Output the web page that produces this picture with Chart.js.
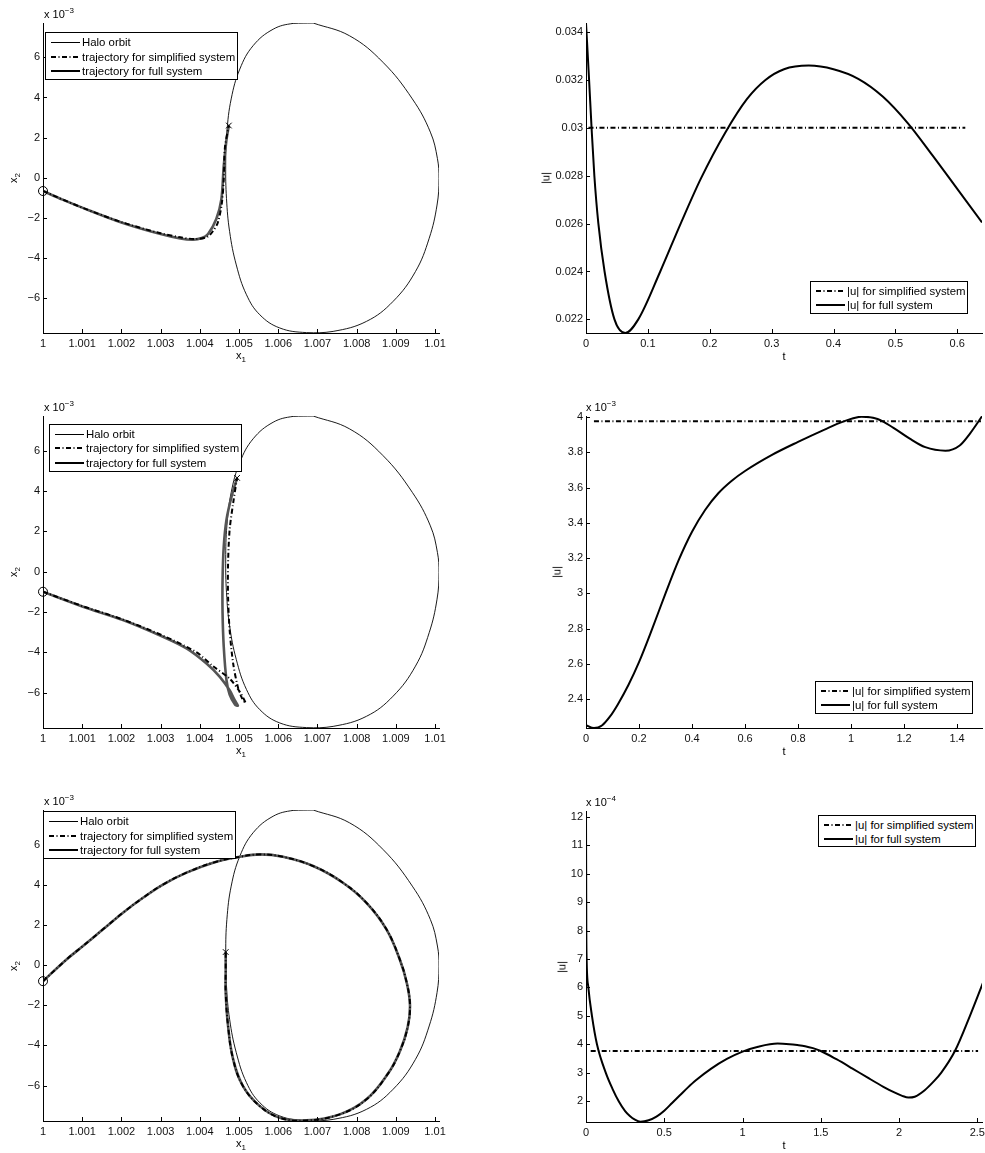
<!DOCTYPE html>
<html>
<head>
<meta charset="utf-8">
<script src="https://cdn.jsdelivr.net/npm/chart.js@4.4.1/dist/chart.umd.min.js"></script>
<style>
body{margin:0;background:#fff;width:985px;height:1153px;overflow:hidden;position:relative;font-family:'Liberation Sans',Arial,sans-serif;color:#000}
canvas{position:absolute}
.lbl{position:absolute;font-size:11px;line-height:11px;white-space:nowrap}
.lgd{position:absolute;border:1px solid #000;background:#fff;box-sizing:border-box;font-size:11.4px}
.row{position:absolute;left:0;height:14px;display:flex;align-items:center;white-space:nowrap}
.row svg{margin-left:5px;margin-right:2px}
sub,sup{font-size:8px;line-height:0}
</style>
</head>
<body>
<script>
// ---- Halo orbit (same in the three left plots), x1 and x2 (x2 in 1e-3) ----
const haloX1 = [1.00689, 1.00782, 1.00867, 1.00942, 1.00988, 1.01006, 1.01010, 1.01005, 1.00985, 1.00950,
                1.00893, 1.00825, 1.00740, 1.00672, 1.00604, 1.00553, 1.00519, 1.00493, 1.00476, 1.00468,
                1.00466, 1.00469, 1.00480, 1.00502, 1.00536, 1.00587, 1.00638, 1.00689];
const haloX2 = [7.72, 7.08, 5.76, 3.93, 2.27, 0.95, -0.05, -1.37, -3.03, -4.69,
                -6.18, -7.18, -7.68, -7.74, -7.51, -6.85, -5.85, -4.36, -2.70, -1.04,
                0.62, 2.27, 3.93, 5.42, 6.59, 7.41, 7.70, 7.72];

// ---- Case 1 trajectories ----
const traj1FullX1 = [1.00000, 1.00050, 1.00100, 1.00200, 1.00300, 1.00350, 1.00383, 1.00405, 1.00421, 1.00442, 1.00455, 1.00461, 1.00468, 1.00474];
const traj1FullX2 = [-0.67, -1.10, -1.50, -2.24, -2.82, -3.04, -3.10, -3.02, -2.82, -2.07, -1.08, 0.58, 1.90, 2.60];
const traj1SimpX1 = [1.00000, 1.00100, 1.00200, 1.00300, 1.00350, 1.00390, 1.00420, 1.00434, 1.00446, 1.00456, 1.00461, 1.00464, 1.00474];
const traj1SimpX2 = [-0.67, -1.50, -2.22, -2.78, -2.98, -3.07, -2.95, -2.66, -2.24, -1.30, -0.08, 1.50, 2.60];

// ---- Case 2 trajectories ----
const traj2FullX1 = [1.00000, 1.00102, 1.00204, 1.00306, 1.00366, 1.00417, 1.00451, 1.00476, 1.00489, 1.00497, 1.00490,
                     1.00476, 1.00468, 1.00461, 1.00458, 1.00458, 1.00461, 1.00468, 1.00481, 1.00495];
const traj2FullX2 = [-1.00, -1.74, -2.40, -3.23, -3.81, -4.56, -5.22, -5.89, -6.38, -6.65, -6.60,
                     -6.10, -5.39, -3.73, -2.07, -0.40, 1.24, 2.57, 3.73, 4.65];
const traj2SimpX1 = [1.00000, 1.00102, 1.00204, 1.00306, 1.00391, 1.00434, 1.00476, 1.00502, 1.00517, 1.00508,
                     1.00497, 1.00485, 1.00476, 1.00472, 1.00472, 1.00476, 1.00485, 1.00495];
const traj2SimpX2 = [-1.00, -1.72, -2.38, -3.18, -4.00, -4.70, -5.31, -5.97, -6.52, -6.30,
                     -5.72, -4.56, -2.90, -1.24, 0.40, 2.07, 3.40, 4.65];

// ---- Case 3 trajectories (both systems overlap) ----
const traj3FullX1 = [1.00000, 1.00060, 1.00102, 1.00153, 1.00204, 1.00255, 1.00306, 1.00366, 1.00434, 1.00502, 1.00553,
                     1.00612, 1.00689, 1.00765, 1.00825, 1.00876, 1.00910, 1.00928, 1.00936, 1.00930, 1.00910,
                     1.00880, 1.00825, 1.00757, 1.00672, 1.00604, 1.00553, 1.00510, 1.00485, 1.00472, 1.00466,
                     1.00466, 1.00466];
const traj3FullX2 = [-0.80, 0.28, 0.95, 1.78, 2.61, 3.35, 4.01, 4.60, 5.10, 5.39, 5.51,
                     5.39, 4.93, 4.10, 3.10, 1.78, 0.28, -0.90, -2.00, -3.10, -4.30,
                     -5.40, -6.68, -7.43, -7.73, -7.60, -7.02, -6.02, -4.69, -3.03, -1.37,
                     -0.21, 0.65];
const traj3SimpX1 = traj3FullX1;
const traj3SimpX2 = traj3FullX2;

// ---- |u| curves ----
const u1T    = [0, 0.005, 0.009, 0.0135, 0.02, 0.03, 0.046, 0.0635, 0.0845, 0.120, 0.153, 0.186, 0.225,
                0.26, 0.29, 0.32, 0.36, 0.40, 0.44, 0.48, 0.52, 0.56, 0.60, 0.64];
const u1Full = [0.03438, 0.0320, 0.0300, 0.0280, 0.0260, 0.0240, 0.0220, 0.02143, 0.0220, 0.0240, 0.0260, 0.0279, 0.0298,
                0.0312, 0.0320, 0.03245, 0.0326, 0.03245, 0.03205, 0.0313, 0.0302, 0.02885, 0.02745, 0.02605];
const u1SimpT = [0.004, 0.613];
const u1Simp  = [0.030, 0.030];

const u2T    = [0, 0.03, 0.06, 0.09, 0.12, 0.16, 0.2, 0.25, 0.3, 0.35, 0.4, 0.45, 0.5, 0.55, 0.6, 0.7, 0.8, 0.9, 0.97,
                1.04, 1.1, 1.16, 1.22, 1.28, 1.356, 1.41, 1.45, 1.494];
const u2Full = [2.252, 2.236, 2.25, 2.30, 2.37, 2.48, 2.61, 2.80, 3.00, 3.19, 3.35, 3.475, 3.57, 3.64, 3.695, 3.785, 3.86, 3.93, 3.975,
                4.003, 3.99, 3.94, 3.88, 3.83, 3.81, 3.84, 3.91, 4.005];
const u2SimpT = [0.03, 1.49];
const u2Simp  = [3.977, 3.977];

const u3T    = [0, 0.002, 0.004, 0.015, 0.038, 0.07, 0.126, 0.17, 0.21, 0.25, 0.28, 0.31, 0.348, 0.40, 0.45, 0.5, 0.55,
                0.6, 0.65, 0.7, 0.8, 0.9, 1.0, 1.1, 1.224, 1.30, 1.35, 1.40, 1.45, 1.5, 1.6, 1.7, 1.8, 1.9, 1.97, 2.02,
                2.06, 2.1, 2.164, 2.22, 2.27, 2.357, 2.453, 2.538];
const u3Full = [12.21, 8.0, 7.0, 6.0, 5.0, 4.0, 3.0, 2.42, 1.98, 1.64, 1.47, 1.35, 1.27, 1.32, 1.45, 1.66, 1.93,
                2.2, 2.47, 2.72, 3.14, 3.48, 3.74, 3.91, 4.02, 4.0, 3.97, 3.93, 3.86, 3.76, 3.47, 3.15, 2.82, 2.50, 2.30, 2.18,
                2.12, 2.15, 2.38, 2.68, 3.0, 3.76, 5.0, 6.19];
const u3SimpT = [0.03, 2.505];
const u3Simp  = [3.76, 3.76];

// ---- ticks ----
const orbitXTicks  = [1, 1.001, 1.002, 1.003, 1.004, 1.005, 1.006, 1.007, 1.008, 1.009, 1.01];
const orbitXLabels = ['1', '1.001', '1.002', '1.003', '1.004', '1.005', '1.006', '1.007', '1.008', '1.009', '1.01'];
const orbitYTicks  = [-6, -4, -2, 0, 2, 4, 6];
const orbitYLabels = ['\u22126', '\u22124', '\u22122', '0', '2', '4', '6'];

const u1XTicks  = [0, 0.1, 0.2, 0.3, 0.4, 0.5, 0.6];
const u1XLabels = ['0', '0.1', '0.2', '0.3', '0.4', '0.5', '0.6'];
const u1YTicks  = [0.022, 0.024, 0.026, 0.028, 0.030, 0.032, 0.034];
const u1YLabels = ['0.022', '0.024', '0.026', '0.028', '0.03', '0.032', '0.034'];

const u2XTicks  = [0, 0.2, 0.4, 0.6, 0.8, 1.0, 1.2, 1.4];
const u2XLabels = ['0', '0.2', '0.4', '0.6', '0.8', '1', '1.2', '1.4'];
const u2YTicks  = [2.4, 2.6, 2.8, 3.0, 3.2, 3.4, 3.6, 3.8, 4.0];
const u2YLabels = ['2.4', '2.6', '2.8', '3', '3.2', '3.4', '3.6', '3.8', '4'];

const u3XTicks  = [0, 0.5, 1, 1.5, 2, 2.5];
const u3XLabels = ['0', '0.5', '1', '1.5', '2', '2.5'];
const u3YTicks  = [2, 3, 4, 5, 6, 7, 8, 9, 10, 11, 12];
const u3YLabels = ['2', '3', '4', '5', '6', '7', '8', '9', '10', '11', '12'];

const orbitLegend = ['Halo orbit', 'trajectory for simplified system', 'trajectory for full system'];
const uLegend = ['|u| for simplified system', '|u| for full system'];

// ---- helpers ----
const FONT = "'Liberation Sans', Arial, Helvetica, sans-serif";
const DASHDOT = [5, 2.5, 1, 2.5];

function pts(xs, ys) { return xs.map((x, i) => ({ x: x, y: ys[i] })); }

function line(data, color, width, dash, extra) {
    return Object.assign({
        data: data, showLine: true, borderColor: color, backgroundColor: 'rgba(0,0,0,0)',
        borderWidth: width, borderDash: dash || [], pointRadius: 0, fill: false, tension: 0.4
    }, extra || {});
}

function marker(pt, style, r) {
    return { data: [pt], showLine: false, pointStyle: style, pointRadius: r, borderColor: '#000',
             backgroundColor: 'rgba(0,0,0,0)', pointBorderWidth: 1, borderWidth: 1, clip: false };
}

// MATLAB style ticks pointing into the plot
const inwardTicks = {
    id: 'inwardTicks',
    afterDatasetsDraw(chart) {
        const { ctx, chartArea, scales } = chart;
        ctx.save();
        ctx.strokeStyle = '#000';
        ctx.lineWidth = 1;
        scales.x.ticks.forEach(t => {
            const px = Math.round(scales.x.getPixelForValue(t.value)) + 0.5;
            ctx.beginPath(); ctx.moveTo(px, chartArea.bottom); ctx.lineTo(px, chartArea.bottom - 4); ctx.stroke();
        });
        scales.y.ticks.forEach(t => {
            const py = Math.round(scales.y.getPixelForValue(t.value)) + 0.5;
            ctx.beginPath(); ctx.moveTo(chartArea.left, py); ctx.lineTo(chartArea.left + 4, py); ctx.stroke();
        });
        ctx.restore();
    }
};

function axis(min, max, ticks, labels, isX, size) {
    return {
        type: 'linear', min: min, max: max, bounds: 'data',
        grid: { display: true, drawOnChartArea: false, drawTicks: false },
        border: { display: true, color: '#000', width: 1 },
        ticks: {
            autoSkip: false, maxRotation: 0, padding: isX ? 4 : 3, color: '#111',
            font: { family: FONT, size: 11 },
            callback: (v, i) => labels[i]
        },
        afterBuildTicks: s => { s.ticks = ticks.map(v => ({ value: v })); },
        afterFit: s => {
            if (isX) { s.height = size; s.paddingLeft = 0; s.paddingRight = 0; }
            else { s.width = size; s.paddingTop = 0; s.paddingBottom = 0; }
        }
    };
}

function addText(html, css) {
    const d = document.createElement('div');
    d.className = 'lbl';
    d.innerHTML = html;
    Object.assign(d.style, css);
    document.body.appendChild(d);
    return d;
}

function sampleSvg(kind) {
    let attr = 'y1="5" y2="5" stroke="#000" stroke-width="2"';
    if (kind === 'thin') attr = 'y1="5.5" y2="5.5" stroke="#000" stroke-width="1"';
    if (kind === 'dashdot') attr = 'y1="5" y2="5" stroke="#000" stroke-width="2" stroke-dasharray="' + DASHDOT.join(' ') + '"';
    return '<svg width="29" height="10"><line x1="0" x2="29" ' + attr + '/></svg>';
}

function addLegend(left, top, w, h, names, kinds, rowYs) {
    const box = document.createElement('div');
    box.className = 'lgd';
    Object.assign(box.style, { left: left + 'px', top: top + 'px', width: w + 'px', height: h + 'px' });
    names.forEach((n, i) => {
        const r = document.createElement('div');
        r.className = 'row';
        r.style.top = (rowYs[i] - 7 - 1) + 'px';
        r.innerHTML = sampleSvg(kinds[i]) + '<span>' + n + '</span>';
        box.appendChild(r);
    });
    document.body.appendChild(box);
}

function makePanel(p) {
    const cv = document.createElement('canvas');
    cv.width = p.w; cv.height = p.h;
    cv.style.left = p.left + 'px';
    cv.style.top = p.top + 'px';
    document.body.appendChild(cv);
    new Chart(cv, {
        type: 'scatter',
        data: { datasets: p.datasets },
        options: {
            responsive: false, animation: false, devicePixelRatio: 1, events: [],
            layout: { padding: { top: p.padTop, right: p.padRight, left: 0, bottom: 0 } },
            plugins: { legend: { display: false }, tooltip: { enabled: false } },
            scales: {
                x: axis(p.xMin, p.xMax, p.xTicks, p.xLabels, true, 27),
                y: axis(p.yMin, p.yMax, p.yTicks, p.yLabels, false, p.yAxisW)
            }
        },
        plugins: [inwardTicks]
    });
}

// ---- left column: orbits ----
const GREY = '#555';
const orbitCases = [
    { top: 0,   h: 360, fx: traj1FullX1, fy: traj1FullX2, sx: traj1SimpX1, sy: traj1SimpX2, legTop: 32,    legLeft: 45, ten: 0.3 },
    { top: 393, h: 362, fx: traj2FullX1, fy: traj2FullX2, sx: traj2SimpX1, sy: traj2SimpX2, legTop: 423.5, legLeft: 49, ten: 0.3 },
    { top: 787, h: 361, fx: traj3FullX1, fy: traj3FullX2, sx: traj3SimpX1, sy: traj3SimpX2, legTop: 811,   legLeft: 43, ten: 0.4 }
];
orbitCases.forEach(c => {
    const full = pts(c.fx, c.fy), simp = pts(c.sx, c.sy);
    makePanel({
        left: 0, top: c.top, w: 450, h: c.h, padTop: 23, padRight: 11, yAxisW: 43,
        xMin: 1.0, xMax: 1.0101, yMin: -7.76, yMax: 7.72,
        xTicks: orbitXTicks, xLabels: orbitXLabels, yTicks: orbitYTicks, yLabels: orbitYLabels,
        datasets: [
            marker(full[0], 'circle', 4.5),
            marker(full[full.length - 1], 'crossRot', 4),
            line(simp, '#000', 2, DASHDOT, { tension: c.ten }),
            line(full, GREY, 2.6, [], { tension: c.ten }),
            line(pts(haloX1, haloX2), '#000', 0.9, [], { tension: 0.4 })
        ]
    });
    const chartTop = c.top + 23, chartBottom = c.top + c.h - 27;
    addText('x 10<sup>\u22123</sup>', { left: '44px', top: (chartTop - 4.5 - 9.3) + 'px' });
    addText('x<sub>1</sub>', { left: '241px', top: (chartBottom + 26.5 - 9.3) + 'px', transform: 'translateX(-50%)' });
    addText('x<sub>2</sub>', { left: '13px', top: ((chartTop + chartBottom) / 2) + 'px', transform: 'translate(-50%,-50%) rotate(-90deg)' });
    addLegend(c.legLeft, c.legTop, 193, 48, orbitLegend, ['thin', 'dashdot', 'solid'], [10, 24.7, 39]);
});

// ---- right column: control magnitude ----
const uCases = [
    { top: 0,   h: 360, t: u1T, u: u1Full, st: u1SimpT, su: u1Simp, xMin: 0, xMax: 0.64,  yMin: 0.02143, yMax: 0.03438,
      xTicks: u1XTicks, xLabels: u1XLabels, yTicks: u1YTicks, yLabels: u1YLabels, exp: null, ylx: 546, leg: [810, 281, 33] },
    { top: 393, h: 362, t: u2T, u: u2Full, st: u2SimpT, su: u2Simp, xMin: 0, xMax: 1.494, yMin: 2.236, yMax: 4.007,
      xTicks: u2XTicks, xLabels: u2XLabels, yTicks: u2YTicks, yLabels: u2YLabels, exp: '\u22123', ylx: 557, leg: [815, 681, 33] },
    { top: 788, h: 361, t: u3T, u: u3Full, st: u3SimpT, su: u3Simp, xMin: 0, xMax: 2.53,  yMin: 1.26, yMax: 12.21,
      xTicks: u3XTicks, xLabels: u3XLabels, yTicks: u3YTicks, yLabels: u3YLabels, exp: '\u22124', ylx: 562, leg: [818, 815, 32] }
];
uCases.forEach(c => {
    makePanel({
        left: 540, top: c.top, w: 445, h: c.h, padTop: 23, padRight: 3, yAxisW: 46,
        xMin: c.xMin, xMax: c.xMax, yMin: c.yMin, yMax: c.yMax,
        xTicks: c.xTicks, xLabels: c.xLabels, yTicks: c.yTicks, yLabels: c.yLabels,
        datasets: [
            line(pts(c.st, c.su), '#000', 2, DASHDOT, { tension: 0 }),
            line(pts(c.t, c.u), '#000', 2, [], { cubicInterpolationMode: 'monotone' })
        ]
    });
    const chartTop = c.top + 23, chartBottom = c.top + c.h - 27;
    if (c.exp) addText('x 10<sup>' + c.exp + '</sup>', { left: '586px', top: (chartTop - 4.5 - 9.3) + 'px' });
    addText('t', { left: '784px', top: (chartBottom + 27 - 9.3) + 'px', transform: 'translateX(-50%)' });
    addText('|u|', { left: c.ylx + 'px', top: ((chartTop + chartBottom) / 2) + 'px', transform: 'translate(-50%,-50%) rotate(-90deg)' });
    addLegend(c.leg[0], c.leg[1], 158, c.leg[2], uLegend, ['dashdot', 'solid'], [10, 24.3]);
});
</script>
</body>
</html>
